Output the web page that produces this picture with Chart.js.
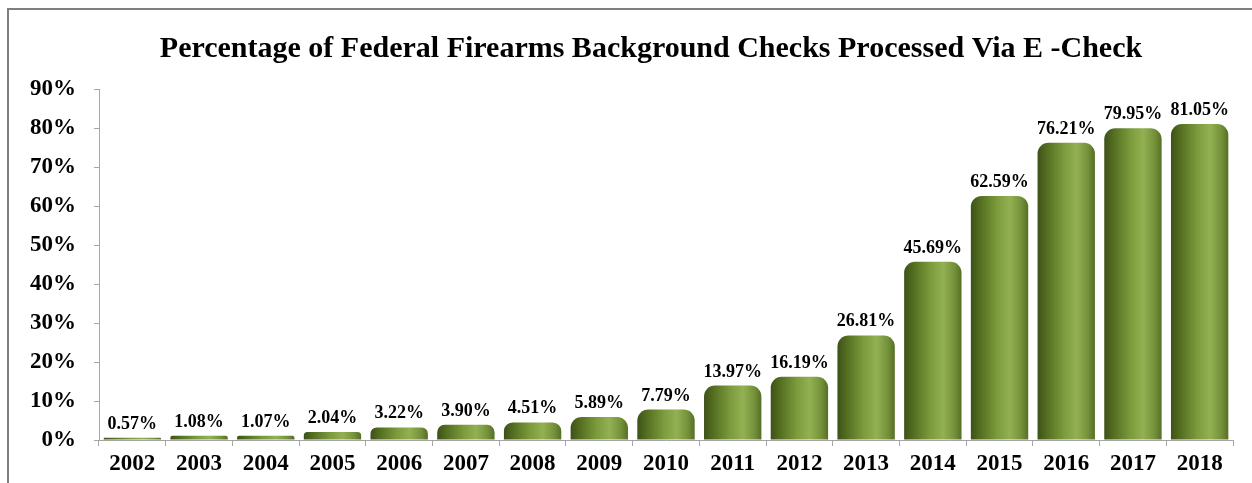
<!DOCTYPE html>
<html>
<head>
<meta charset="utf-8">
<script src="https://cdn.jsdelivr.net/npm/chart.js@4/dist/chart.umd.min.js"></script>
<style>
  html, body { margin: 0; padding: 0; background: #fff; }
  #wrap { width: 1252px; height: 483px; position: relative; }
</style>
</head>
<body>
<div id="wrap"><canvas id="c" width="1252" height="483"></canvas></div>
<script>
const titleText = "Percentage of Federal Firearms Background Checks Processed Via E -Check";
const years = ["2002","2003","2004","2005","2006","2007","2008","2009","2010","2011","2012","2013","2014","2015","2016","2017","2018"];
const echeckPct = [0.57,1.08,1.07,2.04,3.22,3.90,4.51,5.89,7.79,13.97,16.19,26.81,45.69,62.59,76.21,79.95,81.05];
const pctLabels = ["0.57%","1.08%","1.07%","2.04%","3.22%","3.90%","4.51%","5.89%","7.79%","13.97%","16.19%","26.81%","45.69%","62.59%","76.21%","79.95%","81.05%"];
const yMin = 0, yMax = 90, yStep = 10;

const SERIF = '"Liberation Serif", "Times New Roman", serif';
const BAR_PCT = 0.86;

function barGradient(ctx) {
  const chart = ctx.chart;
  const area = chart.chartArea;
  if (!area || !chart.scales.x) return '#6f8c33';
  const xs = chart.scales.x;
  const cx = xs.getPixelForValue(ctx.dataIndex);
  const w = (area.right - area.left) / years.length * BAR_PCT;
  const g = chart.ctx.createLinearGradient(cx - w / 2, 0, cx + w / 2, 0);
  g.addColorStop(0, '#3d5119');
  g.addColorStop(0.15, '#526c1f');
  g.addColorStop(0.45, '#7a9a3c');
  g.addColorStop(0.68, '#93b152');
  g.addColorStop(0.88, '#74913a');
  g.addColorStop(1, '#566e25');
  return g;
}

const framePlugin = {
  id: 'frame',
  beforeDraw(chart) {
    const c = chart.ctx;
    c.save();
    c.fillStyle = '#ffffff';
    c.fillRect(0, 0, chart.width, chart.height);
    c.strokeStyle = '#7f7f7f';
    c.lineWidth = 2;
    c.strokeRect(8, 9, 1400, 600);
    c.fillStyle = '#000';
    c.font = 'bold 30px ' + SERIF;
    c.textAlign = 'center';
    c.textBaseline = 'alphabetic';
    c.fillText(titleText, 651, 57);
    c.restore();
  }
};

const labelPlugin = {
  id: 'barLabels',
  afterDatasetsDraw(chart) {
    const c = chart.ctx;
    const meta = chart.getDatasetMeta(0);
    c.save();
    c.fillStyle = '#000';
    c.font = 'bold 18px ' + SERIF;
    c.textAlign = 'center';
    c.textBaseline = 'alphabetic';
    meta.data.forEach((bar, i) => {
      c.fillText(pctLabels[i], bar.x, bar.y - 9);
    });
    c.restore();
  }
};

new Chart(document.getElementById('c'), {
  type: 'bar',
  data: {
    labels: years,
    datasets: [{
      data: echeckPct,
      backgroundColor: barGradient,
      borderWidth: 0,
      borderSkipped: 'bottom',
      borderRadius: { topLeft: 11, topRight: 11, bottomLeft: 0, bottomRight: 0 },
      categoryPercentage: 1.0,
      barPercentage: BAR_PCT
    }]
  },
  options: {
    responsive: false,
    animation: false,
    devicePixelRatio: 1,
    layout: { padding: { left: 0, right: 19, top: 89, bottom: 0 } },
    plugins: { legend: { display: false }, title: { display: false }, tooltip: { enabled: false } },
    scales: {
      x: {
        offset: true,
        grid: { display: true, offset: true, drawOnChartArea: false, drawTicks: true, tickLength: 6, color: '#a6a6a6' },
        border: { display: true, color: '#a6a6a6', width: 1 },
        ticks: { color: '#000', font: { family: SERIF, size: 23, weight: 'bold' }, padding: 4, maxRotation: 0, autoSkip: false },
        afterFit(s) { s.height = 43; }
      },
      y: {
        min: yMin, max: yMax,
        grid: { display: true, drawOnChartArea: false, drawTicks: true, tickLength: 5, color: '#a6a6a6' },
        border: { display: true, color: '#a6a6a6', width: 1 },
        ticks: { stepSize: yStep, color: '#000', font: { family: SERIF, size: 23, weight: 'bold' }, padding: 18, callback: v => v + '%' },
        afterFit(s) { s.width = 99; }
      }
    }
  },
  plugins: [framePlugin, labelPlugin]
});
</script>
</body>
</html>
